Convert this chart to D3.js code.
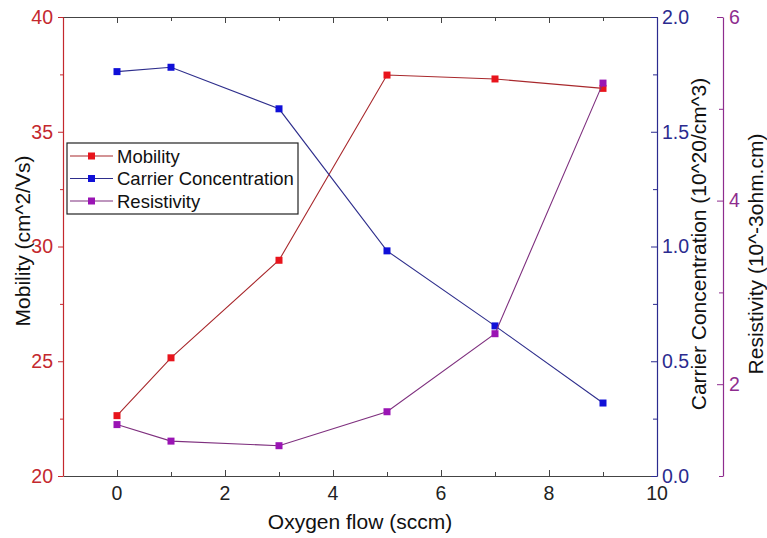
<!DOCTYPE html>
<html>
<head>
<meta charset="utf-8">
<script src="https://cdn.jsdelivr.net/npm/d3@7"></script>
<style>
  body { margin: 0; background: #fff; }
  text { font-family: "Liberation Sans", Arial, sans-serif; }
</style>
</head>
<body>
<div id="mainDiv"></div>
<script>
// Data
const oxygenFlow = [0, 1, 3, 5, 7, 9];
const mobility = [22.63, 25.15, 29.4, 37.47, 37.3, 36.89];
const carrierConcentration = [1.762, 1.781, 1.6, 0.981, 0.654, 0.318];
const resistivity = [1.56, 1.38, 1.33, 1.70, 2.55, 5.28];

const xTicks = [0, 2, 4, 6, 8, 10];
const mobilityTicks = [20, 25, 30, 35, 40];
const carrierTicks = [0, 0.5, 1.0, 1.5, 2.0];
const resistivityTicks = [2, 4, 6];

const chartSize = {
  width: 767, height: 538,
  margin: { top: 17, right: 110, bottom: 62, left: 63 }
};

const colors = {
  mobilityMarker: "#e8141c", mobilityLine: "#a8282c", mobilityAxis: "#c4282e",
  carrierMarker: "#1010d8", carrierLine: "#2e2e8c", carrierAxis: "#2b2b8f",
  resistMarker: "#9a14b4", resistLine: "#7e2f7e", resistAxis: "#8e2c8e",
  frame: "#444"
};

const tickFont = 19.5;
const titleFont = 21;

const plotLeft = chartSize.margin.left;
const plotRight = chartSize.width - chartSize.margin.right;
const plotTop = chartSize.margin.top;
const plotBottom = chartSize.height - chartSize.margin.bottom;
const resistAxisX = 723;

let x = d3.scaleLinear().domain([-1, 10]).range([plotLeft, plotRight]);
let yMob = d3.scaleLinear().domain([20, 40]).range([plotBottom, plotTop]);
let yCar = d3.scaleLinear().domain([0, 2]).range([plotBottom, plotTop]);
let yRes = d3.scaleLinear().domain([1, 6]).range([plotBottom, plotTop]);

const svg = d3.select("#mainDiv")
  .append("svg")
  .attr("width", chartSize.width)
  .attr("height", chartSize.height);

function styleAxis(g, color, fontSize) {
  g.select(".domain").attr("stroke", color).attr("stroke-width", 1.2);
  g.selectAll(".tick line").attr("stroke", color);
  g.selectAll(".tick text")
    .attr("fill", color)
    .attr("font-size", fontSize)
    .attr("font-family", "Liberation Sans, Arial, sans-serif");
}

// top frame with inward ticks
svg.append("g")
  .attr("transform", `translate(0,${plotTop})`)
  .call(d3.axisBottom(x).tickValues(d3.range(-1, 11, 1)).tickSizeOuter(0).tickFormat(""))
  .call(g => styleAxis(g, colors.frame, 0))
  .call(g => g.selectAll(".tick line").attr("y2", d => d % 2 === 0 ? 6 : 4));

// bottom axis: inward ticks, labels below
svg.append("g")
  .attr("transform", `translate(0,${plotBottom})`)
  .call(d3.axisTop(x).tickValues(d3.range(-1, 11, 1)).tickSizeOuter(0).tickFormat(""))
  .call(g => styleAxis(g, colors.frame, 0))
  .call(g => g.selectAll(".tick line").attr("y2", d => d % 2 === 0 ? -6 : -4));

svg.append("g")
  .selectAll("text")
  .data(xTicks)
  .join("text")
  .attr("x", d => x(d))
  .attr("y", plotBottom + 24)
  .attr("text-anchor", "middle")
  .attr("font-size", tickFont)
  .attr("fill", "#222")
  .text(d => d);

// left mobility axis: outward ticks
svg.append("g")
  .attr("transform", `translate(${plotLeft},0)`)
  .call(d3.axisLeft(yMob).tickValues(d3.range(20, 40.1, 2.5)).tickSizeOuter(0).tickPadding(4)
    .tickFormat(d => mobilityTicks.includes(d) ? d : ""))
  .call(g => styleAxis(g, colors.mobilityAxis, tickFont))
  .call(g => g.selectAll(".tick line").attr("x2", d => d % 5 === 0 ? -5 : -3));

// right carrier axis: inward ticks, labels outside
svg.append("g")
  .attr("transform", `translate(${plotRight},0)`)
  .call(d3.axisRight(yCar).tickValues(d3.range(0, 2.01, 0.25)).tickSizeOuter(0).tickPadding(5)
    .tickFormat(d => carrierTicks.some(t => Math.abs(t - d) < 1e-9) ? d3.format(".1f")(d) : ""))
  .call(g => styleAxis(g, colors.carrierAxis, tickFont))
  .call(g => g.selectAll(".tick line").attr("x2", d => Math.abs(d * 2 - Math.round(d * 2)) < 1e-9 ? -6 : -4))
  .call(g => g.selectAll(".tick text").attr("x", 5));

// resistivity axis: offset, inward ticks
svg.append("g")
  .attr("transform", `translate(${resistAxisX},0)`)
  .call(d3.axisRight(yRes).tickValues(d3.range(1, 6.01, 1)).tickSizeOuter(0).tickPadding(5)
    .tickFormat(d => resistivityTicks.includes(d) ? d : ""))
  .call(g => styleAxis(g, colors.resistAxis, tickFont))
  .call(g => g.selectAll(".tick line").attr("x2", d => d % 2 === 0 ? -6 : -4))
  .call(g => g.selectAll(".tick text").attr("x", 6));

// axis titles
svg.append("text")
  .attr("transform", `translate(30,241) rotate(-90)`)
  .attr("text-anchor", "middle")
  .attr("font-size", titleFont)
  .attr("fill", "#111")
  .text("Mobility (cm^2/Vs)");

svg.append("text")
  .attr("transform", `translate(706,244) rotate(-90)`)
  .attr("text-anchor", "middle")
  .attr("font-size", titleFont)
  .attr("fill", "#111")
  .text("Carrier Concentration (10^20/cm^3)");

svg.append("text")
  .attr("transform", `translate(763,254) rotate(-90)`)
  .attr("text-anchor", "middle")
  .attr("font-size", titleFont)
  .attr("fill", "#111")
  .text("Resistivity (10^-3ohm.cm)");

svg.append("text")
  .attr("x", (plotLeft + plotRight) / 2)
  .attr("y", 529)
  .attr("text-anchor", "middle")
  .attr("font-size", titleFont)
  .attr("fill", "#111")
  .text("Oxygen flow (sccm)");

// series
const series = [
  { name: "Mobility", values: mobility, y: yMob, line: colors.mobilityLine, marker: colors.mobilityMarker },
  { name: "Carrier Concentration", values: carrierConcentration, y: yCar, line: colors.carrierLine, marker: colors.carrierMarker },
  { name: "Resistivity", values: resistivity, y: yRes, line: colors.resistLine, marker: colors.resistMarker }
];

const markerSize = 7;

series.forEach(s => {
  let line = d3.line()
    .x((d, i) => x(oxygenFlow[i]))
    .y(d => s.y(d));

  svg.append("path")
    .datum(s.values)
    .attr("fill", "none")
    .attr("stroke", s.line)
    .attr("stroke-width", 1.1)
    .attr("d", line);

  svg.append("g")
    .selectAll("rect")
    .data(s.values)
    .join("rect")
    .attr("x", (d, i) => x(oxygenFlow[i]) - markerSize / 2)
    .attr("y", d => s.y(d) - markerSize / 2)
    .attr("width", markerSize)
    .attr("height", markerSize)
    .attr("fill", s.marker);
});

// legend
const legend = svg.append("g").attr("transform", "translate(67,143)");

legend.append("rect")
  .attr("width", 231)
  .attr("height", 71)
  .attr("fill", "#fff")
  .attr("stroke", "#222")
  .attr("stroke-width", 1.2);

const legendItem = legend.selectAll("g")
  .data(series)
  .join("g")
  .attr("transform", (d, i) => `translate(0,${13 + i * 22.5})`);

legendItem.append("line")
  .attr("x1", 3).attr("x2", 46)
  .attr("stroke", d => d.line)
  .attr("stroke-width", 1.1);

legendItem.append("rect")
  .attr("x", 24.5 - markerSize / 2)
  .attr("y", -markerSize / 2)
  .attr("width", markerSize)
  .attr("height", markerSize)
  .attr("fill", d => d.marker);

legendItem.append("text")
  .attr("x", 50)
  .attr("y", 6.5)
  .attr("font-size", 18.5)
  .attr("fill", "#111")
  .text(d => d.name);
</script>
</body>
</html>
